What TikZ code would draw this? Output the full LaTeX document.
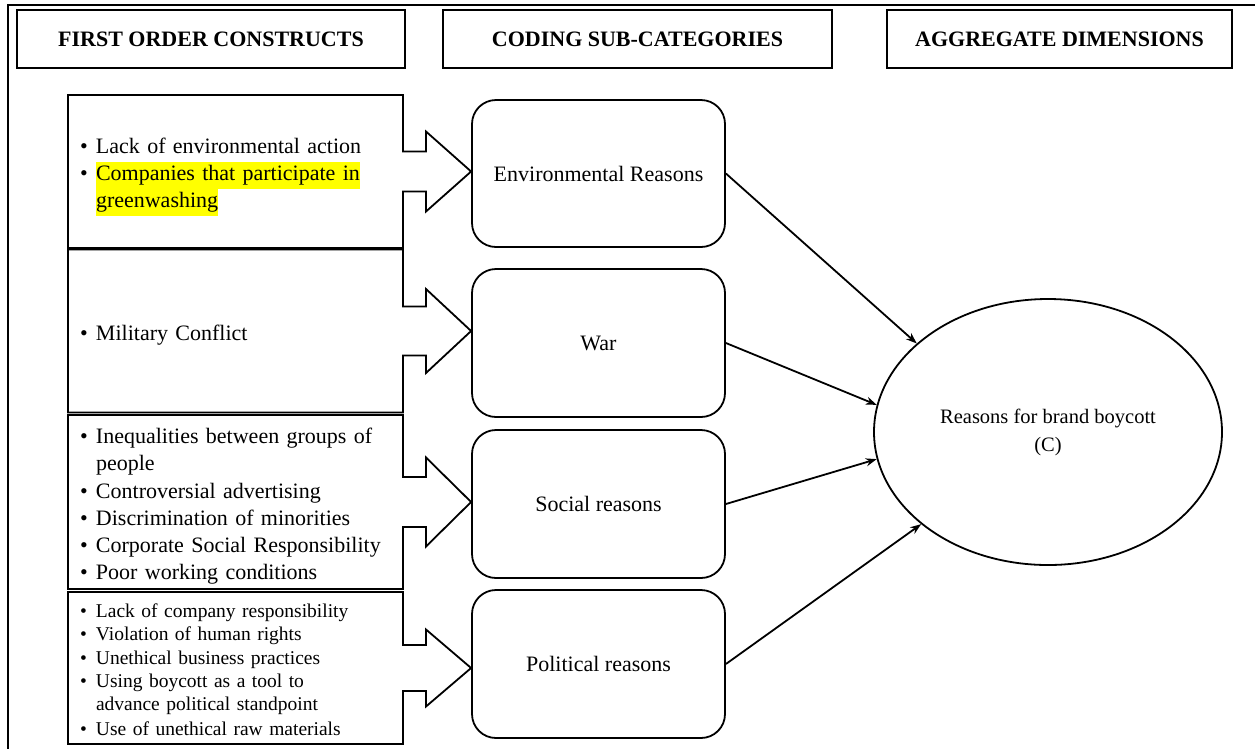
\documentclass[tikz,border=0pt]{standalone}
\usepackage{fontspec}
\setmainfont{Liberation Serif}
\usetikzlibrary{calc,shapes.geometric,arrows.meta}
\definecolor{hlyellow}{HTML}{FFFF00}
\newcommand{\fhead}{\fontsize{22}{26}\selectfont\bfseries}
\newcommand{\fbody}{\fontsize{22}{27}\selectfont}
\newcommand{\fsmall}{\fontsize{19.5}{23.4}\selectfont}
\newcommand{\fell}{\fontsize{20.5}{28}\selectfont}
% bulleted item: bullet, then a ragged block holding the item's lines
\newcommand{\bul}[1]{\par\noindent\makebox[16pt][l]{\textbullet}%
  \parbox[t]{295pt}{\raggedright\strut#1\strut}}
% highlighted run of text
\newcommand{\hlt}[1]{{\setlength{\fboxsep}{0pt}\colorbox{hlyellow}{\strut #1}}}
% outline of a construct box whose right side turns into a block arrow
% #1 box node, #2 target node, #3 half shaft height, #4 half head height
\newcommand{\arrowbox}[4]{%
  \draw[boxline] (#1.east) ++(0,-#3) |- (#1.north west) -- (#1.south west)
    -| ($(#1.east)+(0,#3)$) -- ++(23,0) -- ++(0,#4-#3)
    -- (#2.west |- #1.east) -- ($(#1.east)+(23,-#4)$) -- ++(0,#4-#3) -- cycle;}
\tikzset{
  headbox/.style={draw, line width=2pt, minimum height=58pt, inner sep=0pt, font=\fhead},
  leftbox/.style={inner xsep=12pt, inner ysep=0pt, outer sep=0pt, text width=311pt,
                  minimum width=335pt, align=left, font=\fbody},
  boxline/.style={line width=1.8pt, line join=miter},
  catbox/.style={draw, rounded corners=24pt, line width=1.8pt, minimum width=253pt,
                 minimum height=148pt, font=\fbody},
  conn/.style={line width=1.8pt, -{Stealth[length=11pt,width=8pt]}},
}
\begin{document}
\begin{tikzpicture}[x=1pt,y=-1pt]
\useasboundingbox (0,0) rectangle (1255,748);
% frame
\draw[line width=2pt] (1256,5) -- (8,5) -- (8,749);

% column headers
\node[headbox, minimum width=388pt] (h1) at (211,39) {FIRST ORDER CONSTRUCTS};
\node[headbox, minimum width=389pt] (h2) at (637.5,39) {CODING SUB-CATEGORIES};
\node[headbox, minimum width=345pt] (h3) at (1059.5,39) {AGGREGATE DIMENSIONS};

% first order constructs
\node[leftbox, minimum height=153pt] (l1) at (235.5,171.5) {%
  \bul{Lack of environmental action}%
  \bul{\hlt{Companies that participate in}\\\hlt{greenwashing}}};
\node[leftbox, minimum height=163pt] (l2) at (235.5,331) {%
  \bul{Military Conflict}};
\node[leftbox, minimum height=174pt] (l3) at (235.5,502) {%
  \bul{Inequalities between groups of\\people}%
  \bul{Controversial advertising}%
  \bul{Discrimination of minorities}%
  \bul{Corporate Social Responsibility}%
  \bul{Poor working conditions}};
\node[leftbox, minimum height=152pt, font=\fsmall] (l4) at (235.5,668) {%
  \bul{Lack of company responsibility}%
  \bul{Violation of human rights}%
  \bul{Unethical business practices}%
  \bul{Using boycott as a tool to\\advance political standpoint}%
  \bul{Use of unethical raw materials}};

% coding sub-categories
\node[catbox, minimum height=147pt] (r1) at (598.5,173.5) {Environmental Reasons};
\node[catbox] (r2) at (598.5,343) {War};
\node[catbox] (r3) at (598.5,504) {Social reasons};
\node[catbox] (r4) at (598.5,664) {Political reasons};

% construct boxes with block arrows
\arrowbox{l1}{r1}{20}{40}
\arrowbox{l2}{r2}{24.5}{42}
\arrowbox{l3}{r3}{25}{44.5}
\arrowbox{l4}{r4}{23}{38.5}

% aggregate dimension
\node[ellipse, draw, line width=1.8pt, minimum width=348pt, minimum height=266pt,
      inner sep=0pt, align=center, font=\fell] (c) at (1048,432)
      {Reasons for brand boycott\\(C)};

\draw[conn] (r1.east) -- (c.146.6);
\draw[conn] (r2.east) -- (c.171.7);
\draw[conn] (r3.east) -- (c.189.2);
\draw[conn] (r4.east) -- (c.216);
\end{tikzpicture}
\end{document}
